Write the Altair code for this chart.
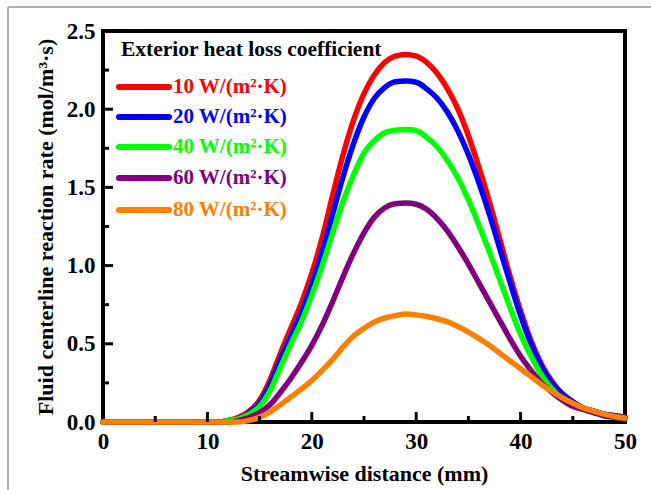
import altair as alt
import pandas as pd

x_mm = list(range(0, 51))
z12 = [0.0] * 12
red = z12 + [0.01, 0.03, 0.07, 0.14, 0.27, 0.44, 0.60, 0.76, 0.95, 1.18, 1.45, 1.71, 1.93, 2.10, 2.22, 2.30, 2.34, 2.35,
             2.34, 2.30, 2.23, 2.13, 2.00, 1.83, 1.63, 1.41, 1.17, 0.93, 0.71, 0.52, 0.37, 0.26, 0.18, 0.13, 0.09, 0.07, 0.05, 0.04, 0.03]
blue = z12 + [0.01, 0.02, 0.06, 0.12, 0.24, 0.40, 0.55, 0.70, 0.88, 1.09, 1.33, 1.57, 1.78, 1.95, 2.07, 2.14, 2.175, 2.18,
              2.172, 2.13, 2.07, 1.98, 1.86, 1.71, 1.53, 1.33, 1.11, 0.89, 0.68, 0.50, 0.36, 0.25, 0.18, 0.13, 0.09, 0.07, 0.05, 0.04, 0.03]
green = z12 + [0.01, 0.02, 0.05, 0.10, 0.20, 0.35, 0.50, 0.64, 0.81, 1.00, 1.21, 1.41, 1.58, 1.72, 1.80, 1.85, 1.865, 1.87,
               1.862, 1.82, 1.76, 1.67, 1.56, 1.42, 1.26, 1.09, 0.91, 0.73, 0.56, 0.42, 0.30, 0.21, 0.15, 0.11, 0.08, 0.06, 0.04, 0.03, 0.02]
purple = z12 + [0.00, 0.01, 0.03, 0.06, 0.11, 0.19, 0.28, 0.38, 0.49, 0.62, 0.77, 0.93, 1.08, 1.21, 1.31, 1.37, 1.395, 1.40,
                1.392, 1.36, 1.30, 1.22, 1.12, 1.01, 0.89, 0.77, 0.65, 0.53, 0.42, 0.33, 0.25, 0.19, 0.14, 0.10, 0.08, 0.06, 0.04, 0.03, 0.02]
orange = z12 + [0.00, 0.00, 0.01, 0.03, 0.065, 0.11, 0.16, 0.21, 0.265, 0.33, 0.40, 0.48, 0.55, 0.60, 0.64, 0.665, 0.68, 0.69,
                0.685, 0.675, 0.66, 0.64, 0.61, 0.575, 0.535, 0.49, 0.44, 0.39, 0.34, 0.29, 0.24, 0.195, 0.155, 0.12, 0.09, 0.07, 0.05, 0.035, 0.025]

labels = ["10 W/(m²·K)", "20 W/(m²·K)", "40 W/(m²·K)", "60 W/(m²·K)", "80 W/(m²·K)"]
colors = ["#FF0000", "#0000FF", "#00FF00", "#800080", "#FF8000"]
series = [red, blue, green, purple, orange]
legend_title = "Exterior heat loss coefficient"

x_major = [10, 20, 30, 40]
x_minor = [5, 15, 25, 35, 45]
y_major = [0.5, 1.0, 1.5, 2.0]
y_minor = [0.25, 0.75, 1.25, 1.75, 2.25]

W, H = 522, 391
FONT = "Liberation Serif"
XMAX, YMAX = 50, 2.5
xs = alt.Scale(domain=[0, XMAX], nice=False, zero=False)
ys = alt.Scale(domain=[0, YMAX], nice=False, zero=False)

# tick lengths in pixels, converted to data units of each scale
MAJ, MIN = 10, 6
def px_y(p):
    return p * YMAX / H
def px_x(p):
    return p * XMAX / W

# inward ticks drawn as two-point line segments (one "tid" per tick)
pts = []
tid = 0
for vals, ln in [(x_major, MAJ), (x_minor, MIN)]:
    for v in vals:
        pts.append({"x": v, "y": 0.0, "tid": tid, "k": 0})
        pts.append({"x": v, "y": px_y(ln), "tid": tid, "k": 1})
        tid += 1
for vals, ln in [(y_major, MAJ), (y_minor, MIN)]:
    for v in vals:
        pts.append({"x": 0.0, "y": v, "tid": tid, "k": 0})
        pts.append({"x": px_x(ln), "y": v, "tid": tid, "k": 1})
        tid += 1
ticks = alt.Chart(pd.DataFrame(pts)).mark_line(color="black", strokeWidth=3).encode(
    x=alt.X("x:Q", scale=xs), y=alt.Y("y:Q", scale=ys), detail="tid:N", order="k:Q")

# black plot frame drawn as rules
border = []
for i, (a, b, c, d) in enumerate([(0, W, 0, 0), (0, W, H, H), (0, 0, 0, H), (W, W, 0, H)]):
    border.append(alt.Chart(pd.DataFrame({"b": [i]})).mark_rule(
        color="black", strokeWidth=4, strokeCap="square").encode(
        x=alt.value(a), x2=alt.value(b), y=alt.value(c), y2=alt.value(d)))

layers = []
for lab, col, vals in zip(labels, colors, series):
    df = pd.DataFrame({"x": x_mm, "y": vals})
    layers.append(
        alt.Chart(df).mark_line(color=col, strokeWidth=5.5, interpolate="monotone", strokeCap="round").encode(
            x=alt.X("x:Q", scale=xs, axis=alt.Axis(
                title="Streamwise distance (mm)", values=[0, 10, 20, 30, 40, 50], ticks=False,
                domain=False, labelFont=FONT, labelFontSize=23, labelFontWeight="bold", labelColor="black",
                labelPadding=8, titleFont=FONT, titleFontSize=22, titleFontWeight="bold", titleColor="black",
                titlePadding=10, grid=False, labelFlush=False)),
            y=alt.Y("y:Q", scale=ys, axis=alt.Axis(
                title="Fluid centerline reaction rate (mol/m³·s)", values=[0, 0.5, 1.0, 1.5, 2.0, 2.5],
                format=".1f", ticks=False, domain=False, labelFont=FONT, labelFontSize=23,
                labelFontWeight="bold", labelColor="black", labelPadding=8, titleFont=FONT,
                titleFontSize=22, titleFontWeight="bold", titleColor="black", titlePadding=9,
                grid=False, labelFlush=False)),
        )
    )

# legend
leg = []
leg.append(alt.Chart(pd.DataFrame({"t": [legend_title]})).mark_text(
    font=FONT, fontSize=21.5, fontWeight="bold", color="black", align="left", baseline="middle").encode(
    text="t:N", x=alt.value(18), y=alt.value(19)))
leg_y = [56, 86, 116, 147, 179]
for lab, col, yy in zip(labels, colors, leg_y):
    leg.append(alt.Chart(pd.DataFrame({"t": [lab]})).mark_rule(
        color=col, strokeWidth=6, strokeCap="round").encode(
        x=alt.value(16), x2=alt.value(66), y=alt.value(yy)))
    leg.append(alt.Chart(pd.DataFrame({"t": [lab]})).mark_text(
        font=FONT, fontSize=21, fontWeight="bold", color=col, align="left", baseline="middle").encode(
        text="t:N", x=alt.value(70), y=alt.value(yy)))

# outer gray frame
frame = [
    alt.Chart(pd.DataFrame({"a": [0]})).mark_rule(color="#999999", strokeWidth=1.5).encode(
        x=alt.value(-95), y=alt.value(-24), y2=alt.value(470)),
    alt.Chart(pd.DataFrame({"a": [1]})).mark_rule(color="#999999", strokeWidth=1.5).encode(
        x=alt.value(-95), x2=alt.value(560), y=alt.value(-24)),
]

chart = alt.layer(*border, *layers, ticks, *leg, *frame).properties(
    width=W, height=H,
    autosize=alt.AutoSizeParams(type="none"),
    padding={"left": 103, "top": 31, "right": 26, "bottom": 68},
).configure_view(strokeWidth=0)

chart.save("out.html", embed_options={"renderer": "svg", "actions": False})
